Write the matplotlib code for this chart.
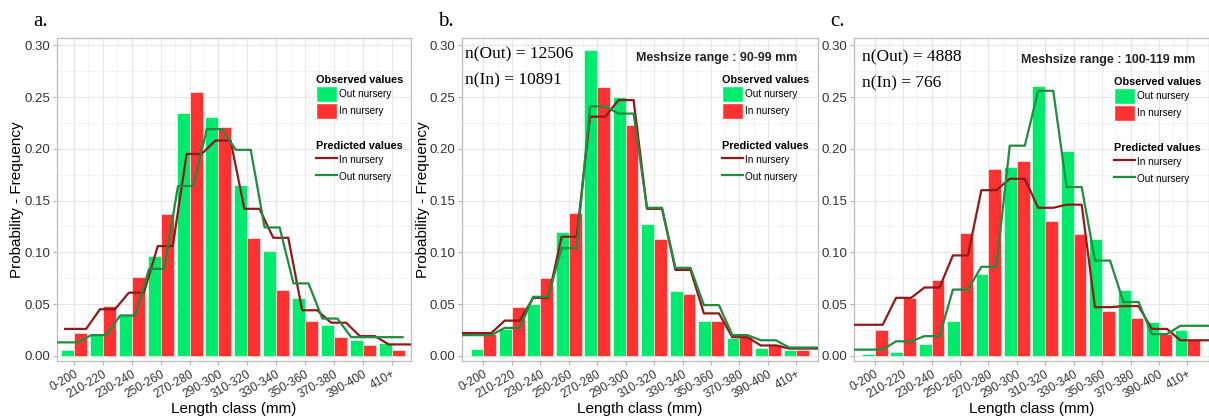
import numpy as np
import matplotlib.pyplot as plt
import matplotlib.transforms as mtransforms
from matplotlib.patches import Patch
from matplotlib.lines import Line2D

plt.rcParams['font.family'] = ['Liberation Sans', 'DejaVu Sans']

# -----------------------------
# DATA
# -----------------------------
classes = ["0-200", "210-220", "230-240", "250-260", "270-280", "290-300",
           "310-320", "330-340", "350-360", "370-380", "390-400", "410+"]

# panel a
obs_out_a = [0.006, 0.020, 0.039, 0.096, 0.235, 0.231, 0.165, 0.101, 0.056, 0.030, 0.015, 0.012]
obs_in_a = [0.022, 0.048, 0.076, 0.137, 0.255, 0.221, 0.114, 0.064, 0.034, 0.018, 0.010, 0.006]
pred_in_a = [0.026, 0.045, 0.061, 0.106, 0.195, 0.208, 0.142, 0.114, 0.044, 0.032, 0.019, 0.011]
pred_out_a = [0.013, 0.020, 0.039, 0.084, 0.164, 0.219, 0.199, 0.124, 0.070, 0.036, 0.018, 0.018]

# panel b : meshsize 90-99 mm
obs_out_b = [0.007, 0.026, 0.050, 0.120, 0.295, 0.250, 0.127, 0.063, 0.034, 0.017, 0.008, 0.006]
obs_in_b = [0.021, 0.047, 0.075, 0.138, 0.260, 0.223, 0.113, 0.060, 0.034, 0.018, 0.011, 0.006]
pred_in_b = [0.022, 0.034, 0.056, 0.115, 0.231, 0.247, 0.142, 0.083, 0.041, 0.018, 0.010, 0.007]
pred_out_b = [0.020, 0.027, 0.057, 0.104, 0.241, 0.234, 0.143, 0.085, 0.049, 0.020, 0.015, 0.008]

# panel c : meshsize 100-119 mm
obs_out_c = [0.002, 0.004, 0.011, 0.034, 0.079, 0.182, 0.261, 0.198, 0.113, 0.064, 0.033, 0.025]
obs_in_c = [0.025, 0.056, 0.073, 0.119, 0.180, 0.188, 0.130, 0.118, 0.043, 0.037, 0.021, 0.015]
pred_in_c = [0.030, 0.056, 0.066, 0.097, 0.160, 0.171, 0.143, 0.146, 0.047, 0.048, 0.026, 0.015]
pred_out_c = [0.006, 0.014, 0.019, 0.064, 0.086, 0.203, 0.256, 0.163, 0.092, 0.052, 0.021, 0.029]

GREEN = "#00EB6E"
RED = "#FF3232"
DKRED = "#8E1A1A"
DKGREEN = "#1F8C40"
W, H = 1209, 418
AX_BOTTOM, AX_TOP = 361, 38


def step_line(vals, lo, hi, start, end):
    xs, ys = [], []
    for i, v in enumerate(vals):
        xs += [i + lo, i + hi]
        ys += [v, v]
    xs[0] = start
    xs[-1] = end
    return xs, ys


def panel(left, width, xlim, obs_out, obs_in, pred_in, pred_out, red_off, green_off,
          letter, leg_xy, ylabel=True, counts=None, mesh=None):
    hgt = AX_BOTTOM - AX_TOP
    ax = fig.add_axes([left / W, (H - AX_BOTTOM) / H, width / W, hgt / H])
    x = np.arange(len(classes))
    ax.bar(x - 0.225, obs_out, 0.45, color=GREEN, edgecolor="white", linewidth=0.4, zorder=2)
    ax.bar(x + 0.225, obs_in, 0.45, color=RED, edgecolor="white", linewidth=0.4, zorder=2)
    xr, yr = step_line(pred_in, *red_off)
    xg, yg = step_line(pred_out, *green_off)
    ax.plot(xr, yr, color=DKRED, lw=1.6, zorder=3)
    ax.plot(xg, yg, color=DKGREEN, lw=1.6, zorder=3)

    ax.set_xlim(*xlim)
    ax.set_ylim(-0.005, 0.307)
    ax.set_yticks(np.arange(0, 0.31, 0.05))
    ax.set_yticks(np.arange(0.025, 0.31, 0.05), minor=True)
    ax.set_yticklabels([f"{v:.2f}" for v in np.arange(0, 0.31, 0.05)], fontsize=9.5, color="#333333")
    ax.set_xticks(x)
    ax.set_xticks(x[:-1] + 0.5, minor=True)
    ax.set_xticklabels(classes, rotation=30, ha="right", rotation_mode="anchor",
                       fontsize=8.6, color="#333333")
    shift = mtransforms.ScaledTranslation(8 / 100, 0, fig.dpi_scale_trans)
    for lab in ax.get_xticklabels():
        lab.set_transform(lab.get_transform() + shift)
    ax.tick_params(which="major", length=3, color="#B3B3B3", pad=2)
    ax.tick_params(which="minor", length=0)
    ax.grid(which="major", color="#E6E6E6", lw=0.8, zorder=0)
    ax.grid(which="minor", color="#F2F2F2", lw=0.6, zorder=0)
    ax.set_axisbelow(True)
    for s in ax.spines.values():
        s.set_color("#BDBDBD")
        s.set_linewidth(0.9)
    ax.set_xlabel("Length class (mm)", fontsize=11)
    ax.xaxis.set_label_coords(0.5, (AX_BOTTOM - 409) / hgt)
    ax.xaxis.label.set_va("center")
    if ylabel:
        ax.set_ylabel("Probability - Frequency", fontsize=11)
        ax.yaxis.set_label_coords(-39.5 / width, 0.5)
        ax.yaxis.label.set_va("center")

    fig.text(left / W - 24 / W, 1 - 26 / H, letter, family="Liberation Serif", fontsize=15)
    if counts:
        ax.text(counts[2], (AX_BOTTOM - counts[3]) / hgt, f"n(Out) = {counts[0]}",
                transform=ax.transAxes, family="Liberation Serif", fontsize=12.5, va="baseline")
        ax.text(counts[2], (AX_BOTTOM - counts[3] - 26) / hgt, f"n(In) = {counts[1]}",
                transform=ax.transAxes, family="Liberation Serif", fontsize=12.5, va="baseline")
    if mesh:
        ax.text(mesh[1], (AX_BOTTOM - mesh[2]) / hgt, f"Meshsize range : {mesh[0]}",
                transform=ax.transAxes, fontsize=8.9, fontweight="bold",
                ha="right", va="baseline", color="#222222")

    lx, ly = leg_xy
    h1 = [Patch(facecolor=GREEN, edgecolor="white"), Patch(facecolor=RED, edgecolor="white")]
    leg1 = ax.legend(h1, ["Out nursery", "In nursery"], title="Observed values",
                     loc="upper left", bbox_to_anchor=(lx / W, 1 - ly / H),
                     bbox_transform=fig.transFigure, frameon=False, fontsize=7.2,
                     title_fontproperties={"weight": "bold", "size": 7.8},
                     handlelength=2.1, handleheight=2.1, handletextpad=0.2,
                     labelspacing=0.1, borderpad=0, borderaxespad=0, alignment="left")
    ax.add_artist(leg1)
    h2 = [Line2D([], [], color=DKRED, lw=1.6), Line2D([], [], color=DKGREEN, lw=1.6)]
    ax.legend(h2, ["In nursery", "Out nursery"], title="Predicted values",
              loc="upper left", bbox_to_anchor=(lx / W, 1 - (ly + 66) / H),
              bbox_transform=fig.transFigure, frameon=False, fontsize=7.2,
              title_fontproperties={"weight": "bold", "size": 7.8},
              handlelength=2.1, handleheight=2.1, handletextpad=0.2,
              labelspacing=0.1, borderpad=0, borderaxespad=0, alignment="left")
    return ax


fig = plt.figure(figsize=(W / 100, H / 100), dpi=100)

panel(57, 354, (-0.59, 11.67),
      obs_out_a, obs_in_a, pred_in_a, pred_out_a,
      (-0.1, 0.42, -0.31, 12.5), (-0.4, 0.12, -1.0, 11.38),
      "a.", (316, 75))
panel(462, 356, (-0.75, 11.76),
      obs_out_b, obs_in_b, pred_in_b, pred_out_b,
      (-0.25, 0.28, -1.0, 12.5), (-0.25, 0.28, -1.0, 12.5),
      "b.", (722, 75), counts=(12506, 10891, 0.008, 58), mesh=("90-99 mm", 0.941, 61))
panel(854, 355, (-0.73, 11.76),
      obs_out_c, obs_in_c, pred_in_c, pred_out_c,
      (-0.25, 0.28, -1.0, 12.5), (-0.25, 0.28, -1.0, 12.5),
      "c.", (1114, 77), ylabel=False, counts=(4888, 766, 0.023, 61),
      mesh=("100-119 mm", 0.9606, 62.7))

fig.savefig("out.png", dpi=100)
